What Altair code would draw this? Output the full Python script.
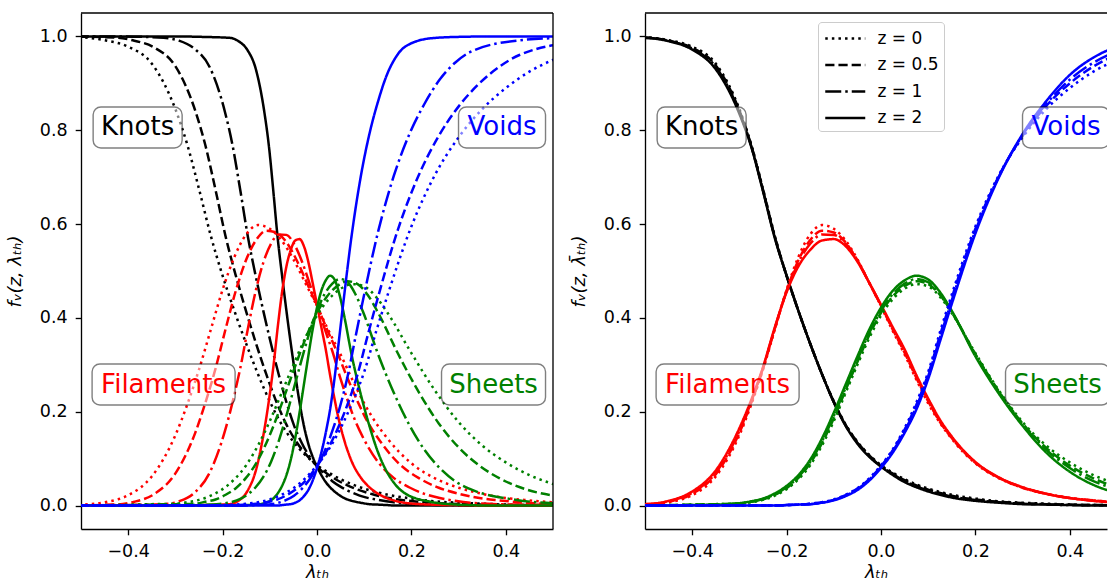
import altair as alt
import pandas as pd

# Normalised threshold grid (lambda-bar_th) on which the volume fractions are tabulated
LAM_BAR = [-1.4, -1.0, -0.8, -0.65, -0.5, -0.45, -0.4, -0.35, -0.3, -0.275, -0.25, -0.225,
           -0.2, -0.175, -0.15, -0.125, -0.1, -0.075, -0.05, -0.025, 0.0, 0.025, 0.05, 0.075,
           0.1, 0.125, 0.15, 0.2, 0.25, 0.3, 0.35, 0.4, 0.45, 0.5, 0.65, 0.8, 1.0, 1.4]

REDSHIFTS = ["z = 0", "z = 0.5", "z = 1", "z = 2"]
# sigma(z) / sigma(0): converts lambda-bar_th back to lambda_th for the left panel
SIGMA_RATIO = [1.0, 0.86, 0.65, 0.37]

ENVIRONMENTS = ["Knots", "Filaments", "Sheets", "Voids"]
ENV_COLORS = ["#000000", "#ff0000", "#008000", "#0000ff"]

KNOTS_Z0 = [1.0, 1.0, 1.0, 1.0, 0.998, 0.992, 0.978, 0.942, 0.845, 0.77, 0.675, 0.575,
            0.49, 0.415, 0.345, 0.28, 0.222, 0.173, 0.136, 0.108, 0.086, 0.07, 0.056, 0.045,
            0.036, 0.029, 0.023, 0.015, 0.009, 0.006, 0.004, 0.002, 0.001, 0.001, 0.0, 0.0, 0.0, 0.0]
KNOTS_Z05 = [1.0, 1.0, 1.0, 1.0, 0.998, 0.991, 0.976, 0.938, 0.842, 0.768, 0.673, 0.573,
             0.49, 0.415, 0.345, 0.28, 0.221, 0.172, 0.135, 0.107, 0.085, 0.068, 0.054, 0.043,
             0.034, 0.027, 0.021, 0.013, 0.008, 0.005, 0.003, 0.002, 0.001, 0.001, 0.0, 0.0, 0.0, 0.0]
KNOTS_Z1 = [1.0, 1.0, 1.0, 1.0, 0.997, 0.991, 0.974, 0.935, 0.839, 0.767, 0.672, 0.572,
            0.49, 0.415, 0.345, 0.28, 0.221, 0.171, 0.134, 0.105, 0.084, 0.067, 0.052, 0.041,
            0.032, 0.025, 0.019, 0.012, 0.007, 0.004, 0.003, 0.001, 0.001, 0.0, 0.0, 0.0, 0.0, 0.0]
KNOTS_Z2 = [1.0, 1.0, 1.0, 0.999, 0.997, 0.99, 0.972, 0.93, 0.835, 0.765, 0.67, 0.57,
            0.49, 0.415, 0.345, 0.28, 0.22, 0.17, 0.132, 0.104, 0.083, 0.065, 0.05, 0.039,
            0.03, 0.023, 0.017, 0.01, 0.006, 0.003, 0.002, 0.001, 0.0, 0.0, 0.0, 0.0, 0.0, 0.0]

FILAMENTS_Z0 = [0.0, 0.0, 0.0, 0.0, 0.002, 0.007, 0.022, 0.062, 0.15, 0.215, 0.29, 0.375,
                0.46, 0.53, 0.578, 0.598, 0.59, 0.565, 0.525, 0.475, 0.425, 0.372, 0.322, 0.268,
                0.218, 0.176, 0.142, 0.09, 0.058, 0.038, 0.025, 0.016, 0.011, 0.007, 0.002, 0.001, 0.0, 0.0]
FILAMENTS_Z05 = [0.0, 0.0, 0.0, 0.0, 0.002, 0.008, 0.025, 0.067, 0.155, 0.219, 0.292, 0.377,
                 0.458, 0.523, 0.566, 0.586, 0.582, 0.561, 0.523, 0.475, 0.426, 0.375, 0.326, 0.272,
                 0.222, 0.178, 0.144, 0.091, 0.059, 0.038, 0.025, 0.016, 0.011, 0.007, 0.002, 0.001, 0.0, 0.0]
FILAMENTS_Z1 = [0.0, 0.0, 0.0, 0.001, 0.003, 0.009, 0.027, 0.07, 0.159, 0.221, 0.293, 0.378,
                0.457, 0.518, 0.558, 0.578, 0.577, 0.558, 0.522, 0.475, 0.427, 0.377, 0.329, 0.274,
                0.224, 0.18, 0.145, 0.092, 0.059, 0.039, 0.025, 0.016, 0.01, 0.006, 0.002, 0.001, 0.0, 0.0]
FILAMENTS_Z2 = [0.0, 0.0, 0.0, 0.001, 0.003, 0.01, 0.03, 0.075, 0.165, 0.225, 0.295, 0.38,
                0.455, 0.51, 0.545, 0.565, 0.568, 0.553, 0.52, 0.475, 0.428, 0.38, 0.333, 0.278,
                0.228, 0.183, 0.147, 0.093, 0.06, 0.039, 0.025, 0.016, 0.01, 0.006, 0.002, 0.001, 0.0, 0.0]

SHEETS_Z0 = [0.0, 0.0, 0.0, 0.0, 0.0, 0.001, 0.002, 0.003, 0.004, 0.007, 0.012, 0.021,
             0.035, 0.056, 0.086, 0.128, 0.18, 0.24, 0.3, 0.357, 0.405, 0.44, 0.462, 0.472,
             0.467, 0.445, 0.41, 0.325, 0.245, 0.178, 0.128, 0.092, 0.065, 0.046, 0.017, 0.006, 0.002, 0.0]
SHEETS_Z05 = [0.0, 0.0, 0.0, 0.0, 0.0, 0.001, 0.002, 0.003, 0.004, 0.008, 0.013, 0.023,
              0.037, 0.059, 0.09, 0.133, 0.186, 0.246, 0.306, 0.363, 0.411, 0.446, 0.468, 0.478,
              0.472, 0.449, 0.412, 0.323, 0.243, 0.175, 0.123, 0.085, 0.058, 0.039, 0.014, 0.005, 0.001, 0.0]
SHEETS_Z1 = [0.0, 0.0, 0.0, 0.0, 0.0, 0.0, 0.001, 0.002, 0.005, 0.008, 0.014, 0.024,
             0.039, 0.061, 0.093, 0.137, 0.191, 0.251, 0.311, 0.368, 0.415, 0.451, 0.473, 0.483,
             0.476, 0.451, 0.413, 0.321, 0.241, 0.173, 0.119, 0.08, 0.052, 0.035, 0.012, 0.004, 0.001, 0.0]
SHEETS_Z2 = [0.0, 0.0, 0.0, 0.0, 0.0, 0.0, 0.001, 0.002, 0.005, 0.009, 0.015, 0.026,
             0.042, 0.065, 0.098, 0.143, 0.198, 0.258, 0.318, 0.375, 0.422, 0.458, 0.48, 0.49,
             0.482, 0.455, 0.415, 0.318, 0.238, 0.17, 0.113, 0.072, 0.044, 0.027, 0.008, 0.002, 0.0, 0.0]

VOIDS_Z0 = [0.0, 0.0, 0.0, 0.0, 0.0, 0.0, 0.0, 0.0, 0.0, 0.0, 0.0, 0.0,
            0.001, 0.002, 0.004, 0.007, 0.013, 0.023, 0.037, 0.058, 0.086, 0.12, 0.165, 0.22,
            0.285, 0.37, 0.45, 0.595, 0.705, 0.785, 0.845, 0.89, 0.925, 0.95, 0.985, 0.995, 0.999, 1.0]
VOIDS_Z05 = [0.0, 0.0, 0.0, 0.0, 0.0, 0.0, 0.0, 0.0, 0.0, 0.0, 0.0, 0.0,
             0.001, 0.002, 0.004, 0.007, 0.012, 0.022, 0.036, 0.056, 0.084, 0.118, 0.162, 0.215,
             0.28, 0.363, 0.443, 0.59, 0.703, 0.788, 0.852, 0.9, 0.936, 0.961, 0.989, 0.996, 0.999, 1.0]
VOIDS_Z1 = [0.0, 0.0, 0.0, 0.0, 0.0, 0.0, 0.0, 0.0, 0.0, 0.0, 0.0, 0.0,
            0.001, 0.002, 0.003, 0.006, 0.012, 0.021, 0.035, 0.055, 0.082, 0.116, 0.159, 0.211,
            0.276, 0.358, 0.438, 0.586, 0.702, 0.79, 0.856, 0.908, 0.944, 0.967, 0.991, 0.997, 0.999, 1.0]
VOIDS_Z2 = [0.0, 0.0, 0.0, 0.0, 0.0, 0.0, 0.0, 0.0, 0.0, 0.0, 0.0, 0.0,
            0.001, 0.002, 0.003, 0.006, 0.011, 0.02, 0.033, 0.053, 0.08, 0.113, 0.155, 0.205,
            0.27, 0.35, 0.43, 0.58, 0.7, 0.792, 0.862, 0.918, 0.955, 0.977, 0.996, 0.999, 1.0, 1.0]

FRACTIONS = {
    "Knots": [KNOTS_Z0, KNOTS_Z05, KNOTS_Z1, KNOTS_Z2],
    "Filaments": [FILAMENTS_Z0, FILAMENTS_Z05, FILAMENTS_Z1, FILAMENTS_Z2],
    "Sheets": [SHEETS_Z0, SHEETS_Z05, SHEETS_Z1, SHEETS_Z2],
    "Voids": [VOIDS_Z0, VOIDS_Z05, VOIDS_Z1, VOIDS_Z2],
}

# In-panel environment labels (data coordinates)
LABEL_TEXT = ["Knots", "Voids", "Filaments", "Sheets"]
LABEL_X = [-0.38, 0.392, -0.325, 0.374]
LABEL_Y = [0.806, 0.806, 0.258, 0.258]
LABEL_COLORS = ["#000000", "#0000ff", "#ff0000", "#008000"]

# Styling
LINE_W = 2.5
DASHES = [[2.5, 4.1], [9.2, 4.0], [16, 4, 2.5, 4], [1, 0]]
BOX_W = [89, 87, 143, 104]
BOX_H = 41
FONT = "DejaVu Sans"
TICK_FS = 17.5
PLOT_H = 516
LEFT_W = 472
RIGHT_W = 462

rows = []
for env, series in FRACTIONS.items():
    for zi, zlab in enumerate(REDSHIFTS):
        for lb, f in zip(LAM_BAR, series[zi]):
            rows.append({"env": env, "z": zlab, "lam_bar": lb,
                         "lam": round(lb * SIGMA_RATIO[zi], 5), "f": f})
curves = pd.DataFrame(rows)

labels = pd.DataFrame({"text": LABEL_TEXT, "x": LABEL_X, "y": LABEL_Y, "color": LABEL_COLORS})

Y_SCALE = alt.Scale(domain=[-0.05, 1.05], nice=False, zero=False)


def panel(xfield, x_domain, width, y_title, legend, right_spine):
    x_scale = alt.Scale(domain=x_domain, nice=False, zero=False)
    x_axis = alt.Axis(values=[-0.4, -0.2, 0.0, 0.2, 0.4], format=".1f", title="λₜₕ")
    y_axis = alt.Axis(values=[0.0, 0.2, 0.4, 0.6, 0.8, 1.0], format=".1f", title=y_title)

    lines = alt.Chart(curves).mark_line(
        strokeWidth=LINE_W, clip=True, interpolate="monotone"
    ).encode(
        x=alt.X(f"{xfield}:Q", scale=x_scale, axis=x_axis),
        y=alt.Y("f:Q", scale=Y_SCALE, axis=y_axis),
        color=alt.Color("env:N", scale=alt.Scale(domain=ENVIRONMENTS, range=ENV_COLORS), legend=None),
        strokeDash=alt.StrokeDash("z:N", scale=alt.Scale(domain=REDSHIFTS, range=DASHES), legend=legend),
    )

    layers = [lines]
    for i in range(len(LABEL_TEXT)):
        sub = labels.iloc[[i]]
        w = BOX_W[i]
        box = alt.Chart(sub).mark_rect(
            xOffset=-w / 2, x2Offset=w / 2, yOffset=-BOX_H / 2, y2Offset=BOX_H / 2,
            cornerRadius=7.8, fill="white", fillOpacity=0.5, stroke="black",
            strokeOpacity=0.5, strokeWidth=1.4, clip=True,
        ).encode(
            x=alt.X("x:Q", scale=x_scale, axis=x_axis), x2="x:Q",
            y=alt.Y("y:Q", scale=Y_SCALE, axis=y_axis), y2="y:Q",
        )
        txt = alt.Chart(sub).mark_text(
            font=FONT, fontSize=26, align="center", baseline="middle", clip=True,
        ).encode(
            x=alt.X("x:Q", scale=x_scale, axis=x_axis),
            y=alt.Y("y:Q", scale=Y_SCALE, axis=y_axis),
            text="text:N",
            color=alt.Color("color:N", scale=None),
        )
        layers += [box, txt]

    frame = pd.DataFrame({"k": [0]})
    layers.append(alt.Chart(frame).mark_rule(color="black", strokeWidth=1.33).encode(
        x=alt.value(0), x2=alt.value(width), y=alt.value(0)))
    if right_spine:
        layers.append(alt.Chart(frame).mark_rule(color="black", strokeWidth=1.33).encode(
            x=alt.value(width), y=alt.value(0), y2=alt.value(PLOT_H)))

    return alt.layer(*layers).properties(width=width, height=PLOT_H)


legend = alt.Legend(
    orient="none", legendX=173, legendY=9, title=None,
    symbolType="M-2,0H2", symbolSize=400, symbolOffset=10.75, symbolStrokeWidth=2.5,
    symbolStrokeColor="black",
    labelFont=FONT, labelFontSize=17, labelColor="black", labelOffset=20.75,
    padding=5, rowPadding=6.5, fillColor="rgba(255,255,255,0.8)", strokeColor="#cccccc",
    cornerRadius=3.5,
)

left = panel("lam", [-0.5, 0.5], LEFT_W, "fᵥ(z, λₜₕ)", None, True)
right = panel("lam_bar", [-0.5, 0.4788], RIGHT_W, "fᵥ(z, λ̄ₜₕ)", legend, False)

chart = alt.hconcat(left, right, spacing=14).resolve_scale(
    color="independent", strokeDash="independent"
).configure_view(
    stroke="transparent"
).configure_axis(
    grid=False, domainColor="black", domainWidth=1.33, tickColor="black", tickWidth=1.33,
    tickSize=5.8, labelFont=FONT, labelFontSize=TICK_FS, labelColor="black", labelPadding=8,
    titleFont=FONT, titleFontSize=18, titleFontWeight="normal", titleColor="black",
    titleFontStyle="italic",
).configure_axisX(titlePadding=3).configure_axisY(titlePadding=15).properties(
    padding={"left": 5, "top": 11, "right": 0, "bottom": 0}
)

chart.save("out.html", embed_options={"renderer": "svg", "actions": False})
